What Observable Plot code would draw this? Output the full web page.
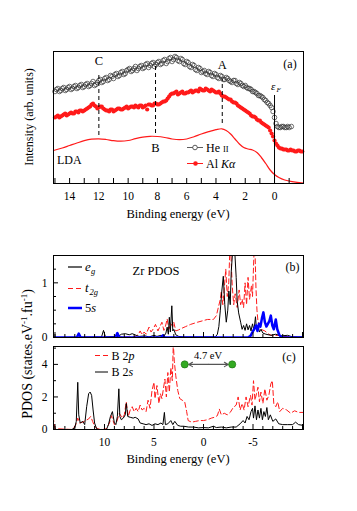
<!DOCTYPE html>
<html><head><meta charset="utf-8">
<script src="https://cdn.jsdelivr.net/npm/d3@7"></script>
<script src="https://cdn.jsdelivr.net/npm/@observablehq/plot@0.6"></script>
<style>
body{margin:0;background:#fff;}
#root{position:relative;width:357px;height:511px;overflow:hidden;font-family:"Liberation Serif","Times New Roman",serif;}
#root > svg{position:absolute;left:0;}
#root svg, #root svg text{font-family:"Liberation Serif","Times New Roman",serif !important;}
</style></head><body><div id="root"></div>
<script>
// ---------- Panel (a): photoemission spectra (binding energy eV, intensity arb.) ----------
const heII = [[15.0,92],[14.8,95],[14.6,93],[14.4,96],[14.2,94],[14.0,97],[13.8,95],[13.6,98],[13.4,96],[13.2,99],[13.0,97],[12.8,100],[12.6,98],[12.4,102],[12.2,99],[12.0,103],[11.8,101],[11.6,105],[11.4,103],[11.2,108],[11.0,105],[10.8,110],[10.6,108],[10.4,112],[10.2,110],[10.0,114],[9.8,112],[9.6,115],[9.4,113],[9.2,117],[9.0,115],[8.8,119],[8.6,116],[8.4,120],[8.2,117],[8.0,121],[7.8,119],[7.6,123],[7.4,120],[7.2,125],[7.0,122],[6.8,127],[6.6,123],[6.4,125],[6.2,120],[6.0,122],[5.8,117],[5.6,119],[5.4,114],[5.2,116],[5.0,111],[4.8,113],[4.6,109],[4.4,111],[4.2,107],[4.0,109],[3.8,105],[3.6,107],[3.4,104],[3.2,105],[3.0,102],[2.8,103],[2.6,100],[2.4,101],[2.2,98],[2.0,98],[1.8,95],[1.6,94],[1.4,92],[1.2,90],[1.0,88],[0.8,86],[0.6,83],[0.4,80],[0.2,76],[0.1,72],[0.0,66],[-0.1,60],[-0.2,57],[-0.4,56],[-0.6,57],[-0.8,56],[-1.0,56],[-1.15,57]];
const heIIb = [[14.9,94],[14.7,92],[14.5,95],[14.3,93],[14.1,96],[13.9,94],[13.7,97],[13.5,95],[13.3,98],[13.1,96],[12.9,99],[12.7,97],[12.5,100],[12.3,98],[12.1,101],[11.9,104],[11.7,102],[11.5,106],[11.3,104],[11.1,107],[10.9,109],[10.7,107],[10.5,111],[10.3,109],[10.1,113],[9.9,115],[9.7,113],[9.5,117],[9.3,115],[9.1,118],[8.9,116],[8.7,120],[8.5,118],[8.3,121],[8.1,119],[7.9,122],[7.7,120],[7.5,124],[7.3,122],[7.1,126],[6.9,124],[6.7,126],[6.5,122],[6.3,124],[6.1,119],[5.9,121],[5.7,116],[5.5,118],[5.3,113],[5.1,115],[4.9,112],[4.7,110],[4.5,112],[4.3,108],[4.1,110],[3.9,106],[3.7,108],[3.5,104],[3.3,106],[3.1,103],[2.9,101],[2.7,103],[2.5,99],[2.3,100],[2.1,97],[1.9,96],[1.7,95],[1.5,92],[1.3,91],[1.1,88],[0.9,87],[0.7,84],[0.5,81],[0.3,78],[-0.3,56],[-0.5,57],[-0.7,56],[-0.9,57]];
const alKa = [[15.0,66],[14.8,68],[14.6,67],[14.4,69],[14.2,68],[14.0,70],[13.8,70],[13.6,72],[13.4,71],[13.2,73],[13.0,73],[12.8,75],[12.6,77],[12.4,80],[12.2,77],[12.0,76],[11.8,77],[11.6,74],[11.4,73],[11.2,74],[11.0,72],[10.8,74],[10.6,75],[10.4,74],[10.2,76],[10.0,75],[9.8,77],[9.6,76],[9.4,77],[9.2,78],[9.0,76],[8.8,78],[8.7,74],[8.6,79],[8.4,78],[8.2,80],[8.0,79],[7.8,80],[7.6,82],[7.4,83],[7.2,87],[7.0,90],[6.8,91],[6.6,89],[6.4,91],[6.2,90],[6.0,91],[5.8,92],[5.6,91],[5.4,93],[5.2,92],[5.0,94],[4.8,93],[4.6,94],[4.4,92],[4.2,93],[4.0,91],[3.8,92],[3.6,88],[3.4,87],[3.2,85],[3.0,84],[2.8,81],[2.6,80],[2.4,77],[2.2,75],[2.0,73],[1.8,71],[1.6,68],[1.4,67],[1.2,64],[1.0,63],[0.8,60],[0.6,58],[0.4,56],[0.3,53],[0.2,50],[0.1,47],[0.0,43],[-0.1,40],[-0.2,38],[-0.3,36],[-0.5,35],[-0.7,34],[-0.9,33],[-1.1,34],[-1.3,33],[-1.5,32],[-1.7,33],[-1.9,32]];
const alKab = [[14.9,67],[14.7,66],[14.5,68],[14.3,70],[14.1,69],[13.9,71],[13.7,70],[13.5,72],[13.3,73],[13.1,72],[12.9,74],[12.7,76],[12.5,79],[12.3,78],[12.1,75],[11.9,77],[11.7,75],[11.5,73],[11.3,72],[11.1,74],[10.9,73],[10.7,75],[10.5,74],[10.3,75],[10.1,77],[9.9,76],[9.7,77],[9.5,78],[9.3,76],[9.1,78],[8.9,77],[8.5,79],[8.3,78],[8.1,80],[7.9,79],[7.7,81],[7.5,82],[7.3,85],[7.1,89],[6.9,90],[6.7,92],[6.5,90],[6.3,92],[6.1,90],[5.9,91],[5.7,93],[5.5,92],[5.3,93],[5.1,95],[4.9,93],[4.7,95],[4.5,93],[4.3,94],[4.1,92],[3.9,91],[3.7,90],[3.5,87],[3.3,86],[3.1,84],[2.9,82],[2.7,81],[2.5,78],[2.3,76],[2.1,74],[1.9,72],[1.7,70],[1.5,67],[1.3,66],[1.1,63],[0.9,61],[0.7,59],[0.5,57],[-0.4,35],[-0.6,34],[-0.8,34],[-1.0,33],[-1.2,33],[-1.4,32],[-1.6,33],[-1.8,32]];
const lda = [[15.1,33],[14.5,35.5],[14.0,38],[13.5,40.5],[13.0,42.8],[12.5,44.3],[12.0,44.7],[11.5,44],[11.0,42.8],[10.5,42.3],[10.0,43],[9.5,44.8],[9.0,46.3],[8.5,47.2],[8.0,47],[7.5,46],[7.0,44.5],[6.5,43.8],[6.0,44.5],[5.5,46.8],[5.0,49.5],[4.5,51.8],[4.0,53.8],[3.6,54.7],[3.3,53],[3.0,49.5],[2.7,44.5],[2.4,39.5],[2.1,36],[1.8,34.5],[1.5,33.5],[1.2,31],[0.9,26],[0.6,20],[0.3,13.5],[0.0,9],[-0.3,6],[-0.7,3.5],[-1.2,1.8],[-1.98,0.3]];
const features = [
  {label:"C", x:12.0, y1:48, y2:110, ty:123},
  {label:"B", x:8.13, y1:50, y2:118, ty:36},
  {label:"A", x:3.57, y1:60, y2:104, ty:119}
];
const fermi = [{x:0, top:88}];
const ticksA = [14,12,10,8,6,4,2,0];
const minorA = [15,14,13,12,11,10,9,8,7,6,5,4,3,2,1,0,-1];

// ---------- Panel (b): Zr PDOS ----------
const eg = [[15.2,0],[10.3,0.01],[10.1,0.13],[9.9,0.01],[8.6,0.02],[8.3,0.06],[7.9,0.07],[7.5,0.05],[7.2,0.07],[6.8,0.04],[6.5,0.02],[5.9,0.03],[5.5,0.01],[5.0,0.04],[4.7,0.02],[4.3,0.04],[4.0,0.02],[3.8,0.08],[3.67,0.19],[3.55,0.06],[3.45,0.37],[3.35,0.1],[3.2,0.58],[3.1,0.12],[3.0,0.15],[2.8,0.05],[2.5,0.02],[2.0,0.01],[-1.2,0.01],[-1.4,0.06],[-1.55,0.2],[-1.7,0.5],[-1.85,0.85],[-2.0,1.12],[-2.15,0.6],[-2.3,0.28],[-2.45,0.5],[-2.56,0.85],[-2.7,0.6],[-2.8,1.2],[-2.95,1.6],[-3.05,1.5],[-3.15,1.6],[-3.3,1.1],[-3.4,0.67],[-3.55,0.45],[-3.75,0.28],[-3.9,0.15],[-4.05,0.22],[-4.2,0.13],[-4.35,0.25],[-4.5,0.14],[-4.65,0.22],[-4.8,0.12],[-4.95,0.25],[-5.1,0.13],[-5.25,0.38],[-5.35,0.15],[-5.5,0.22],[-5.65,0.1],[-5.8,0.15],[-6.0,0.08],[-6.3,0.06],[-6.8,0.04],[-7.3,0.06],[-7.8,0.03],[-8.5,0.04],[-9.0,0.01],[-10.1,0.01]];
const t2g = [[15.2,0],[7.0,0.01],[6.6,0.05],[6.4,0.12],[6.2,0.05],[6.0,0.1],[5.8,0.06],[5.5,0.19],[5.3,0.1],[5.1,0.15],[4.85,0.24],[4.6,0.12],[4.4,0.2],[4.2,0.28],[4.0,0.13],[3.85,0.2],[3.67,0.34],[3.5,0.15],[3.3,0.25],[3.1,0.2],[3.0,0.28],[2.8,0.12],[2.5,0.14],[2.3,0.16],[1.8,0.2],[1.3,0.24],[0.6,0.28],[0,0.31],[-0.4,0.33],[-1.0,0.33],[-1.3,0.4],[-1.5,0.55],[-1.7,0.7],[-1.8,0.85],[-1.95,0.6],[-2.1,0.9],[-2.25,1.25],[-2.4,0.75],[-2.55,1.0],[-2.65,1.55],[-2.75,1.6],[-2.9,0.95],[-3.05,0.6],[-3.2,0.8],[-3.4,0.55],[-3.6,0.87],[-3.75,0.6],[-3.9,0.7],[-4.05,0.55],[-4.2,1.0],[-4.35,0.6],[-4.5,1.1],[-4.65,0.7],[-4.85,0.95],[-4.95,0.75],[-5.1,1.55],[-5.2,1.6],[-5.3,0.9],[-5.4,0.5],[-5.5,0.3],[-5.8,0.15],[-6.2,0.12],[-6.6,0.06],[-7.0,0.03],[-7.5,0.04],[-8.0,0.02],[-9.0,0.01],[-10.1,0]];
const s5 = [[15.2,0],[12.8,0],[12.6,0.07],[12.4,0],[8.9,0],[8.7,0.08],[8.5,0],[4.3,0],[4.1,0.04],[3.9,0],[-4.5,0],[-4.75,0.03],[-4.95,0.1],[-5.1,0.15],[-5.3,0.22],[-5.45,0.12],[-5.6,0.25],[-5.75,0.2],[-5.9,0.35],[-6.05,0.46],[-6.2,0.28],[-6.35,0.2],[-6.5,0.25],[-6.65,0.3],[-6.8,0.4],[-6.95,0.22],[-7.1,0.15],[-7.3,0.33],[-7.45,0.15],[-7.65,0.05],[-7.9,0],[-10.1,0]];

// ---------- Panel (c): B PDOS ----------
const b2p = [[15.2,0.8],[15.0,0.05],[13.2,0],[12.9,0.3],[12.7,0.7],[12.5,0.4],[12.2,0.45],[11.9,0.55],[11.6,0.65],[11.4,0.8],[11.2,0.5],[11.0,0.2],[10.7,0.05],[10.2,0],[9.8,0.05],[9.5,0.4],[9.3,0.85],[9.0,0.3],[8.8,0.4],[8.5,1.0],[8.2,0.7],[8.0,0.9],[7.8,1.7],[7.6,0.8],[7.4,1.2],[7.2,1.4],[7.0,1.1],[6.8,1.3],[6.6,1.1],[6.4,1.5],[6.2,1.2],[6.0,1.3],[5.8,1.1],[5.6,1.8],[5.4,1.3],[5.2,2.4],[5.0,2.9],[4.9,1.9],[4.7,2.7],[4.5,1.6],[4.35,2.2],[4.2,1.9],[3.9,3.1],[3.75,2.0],[3.6,3.5],[3.45,2.3],[3.3,3.8],[3.15,3.0],[3.05,5.3],[2.95,4.2],[2.8,3.3],[2.6,2.4],[2.4,1.9],[2.15,1.8],[1.9,1.7],[1.7,1.1],[1.55,0.55],[1.2,0.45],[0.8,0.5],[0.4,0.55],[0,0.55],[-0.4,0.6],[-0.8,0.7],[-1.1,0.75],[-1.4,0.85],[-1.6,1.25],[-1.8,0.9],[-2.1,1.0],[-2.4,0.9],[-2.7,1.05],[-3.0,1.35],[-3.3,1.5],[-3.5,2.0],[-3.7,1.2],[-3.9,1.6],[-4.1,1.2],[-4.3,2.0],[-4.5,1.4],[-4.75,2.1],[-4.9,1.5],[-5.05,3.0],[-5.2,1.8],[-5.35,2.2],[-5.5,2.6],[-5.65,1.7],[-5.8,2.3],[-6.0,1.6],[-6.2,2.5],[-6.4,1.8],[-6.6,2.1],[-6.8,2.8],[-6.95,3.0],[-7.1,1.6],[-7.3,1.4],[-7.5,1.7],[-7.7,1.1],[-8.0,1.3],[-8.4,1.2],[-8.8,1.0],[-9.2,1.15],[-9.6,1.05],[-10.1,1.05]];
const b2s = [[15.2,0],[13.3,0],[13.0,0.1],[12.85,0.5],[12.7,2.9],[12.6,0.9],[12.45,0.4],[12.2,0.5],[12.0,0.3],[11.8,1.4],[11.6,2.2],[11.45,2.3],[11.3,2.1],[11.15,1.2],[11.0,0.4],[10.8,0.05],[10.6,0],[9.8,0],[9.6,0.3],[9.4,0.8],[9.2,1.1],[9.0,0.4],[8.85,0.3],[8.7,0.8],[8.55,2.5],[8.45,0.8],[8.3,0.6],[8.1,0.7],[7.9,0.9],[7.8,1.6],[7.65,0.8],[7.4,0.75],[7.1,0.7],[6.9,0.75],[6.6,0.65],[6.4,0.4],[6.1,0.35],[5.8,0.3],[5.5,0.35],[5.2,0.25],[4.9,0.35],[4.6,0.3],[4.3,0.4],[4.1,0.3],[3.95,1.05],[3.85,0.3],[3.6,0.35],[3.3,0.55],[3.1,0.3],[2.9,0.5],[2.6,0.25],[2.3,0.2],[2.0,0.2],[1.5,0.15],[1.0,0.15],[0.5,0.1],[0,0.12],[-0.5,0.1],[-1.0,0.2],[-1.3,0.12],[-1.8,0.15],[-2.3,0.1],[-2.8,0.15],[-3.3,0.15],[-3.7,0.35],[-4.0,0.55],[-4.2,0.4],[-4.4,0.8],[-4.6,0.6],[-4.8,1.1],[-4.95,1.3],[-5.05,0.7],[-5.2,1.45],[-5.35,0.6],[-5.5,1.2],[-5.65,0.7],[-5.8,1.3],[-5.95,0.6],[-6.1,1.1],[-6.25,0.8],[-6.4,1.35],[-6.55,0.6],[-6.75,0.9],[-7.0,0.5],[-7.3,0.65],[-7.6,0.35],[-8.0,0.3],[-8.5,0.3],[-9.0,0.3],[-9.3,0.45],[-9.6,0.3],[-10.1,0.25]];
const bond = [{xa:1.9, xb:-2.9, y:4.0}];
const ticksC = [10,5,0,-5];
const minorBC = [15,14,13,12,11,9,8,7,6,4,3,2,1,-1,-2,-3,-4,-6,-7,-8,-9,-10];
const majorBC = [15,10,5,0,-5,-10];

// ---------- rendering ----------
const FONT = "'Liberation Serif', serif";
const W = 357, ML = 53, MR = 54, IW = W - ML - MR;
const px = d => d[0], py = d => d[1];
const baseStyle = {fontFamily: FONT, fontSize: "11.5px", color: "black", background: "transparent", overflow: "visible"};
const root = document.getElementById("root");
function place(svg, top){ svg.style.top = top + "px"; root.appendChild(svg); return svg; }

// Panel a
const hA = 230, mtA = 51, mbA = 47, ihA = hA - mtA - mbA;
const plotA = Plot.plot({
  width: W, height: hA, marginLeft: ML, marginRight: MR, marginTop: mtA, marginBottom: mbA,
  style: baseStyle,
  x: {domain: [15.1, -1.98]},
  y: {domain: [0, 132], axis: null},
  marks: [
    Plot.line(lda, {x: px, y: py, stroke: "#ff1a1a", strokeWidth: 1.2, curve: "catmull-rom"}),
    Plot.dot(alKa, {x: px, y: py, r: 2.1, fill: "#ff1a1a", stroke: "none"}),
    Plot.dot(alKab, {x: px, y: py, r: 2.1, fill: "#ff1a1a", stroke: "none"}),
    Plot.dot(heII, {x: px, y: py, r: 2.3, stroke: "#333", strokeWidth: 0.7, fill: "none"}),
    Plot.dot(heIIb, {x: px, y: py, r: 2.3, stroke: "#333", strokeWidth: 0.7, fill: "none"}),
    Plot.ruleX(features, {x: "x", y1: "y1", y2: "y2", stroke: "black", strokeDasharray: "4,3"}),
    Plot.text(features, {x: "x", y: "ty", text: "label", fontSize: 12.5, fill: "black"}),
    Plot.ruleX(fermi, {x: "x", y1: 0, y2: "top", stroke: "black", strokeWidth: 1}),
    Plot.tickX(minorA, {x: d => d, insetTop: ihA - 5, stroke: "black"}),
    Plot.axisX({ticks: ticksA, tickSize: 0, tickPadding: 8, tickFormat: d => String(d), label: null}),
    Plot.frame({stroke: "black"})
  ]
});
place(plotA, 0);

// Panel b
const hB = 100, mtB = 15, mbB = 3, ihB = hB - mtB - mbB;
const plotB = Plot.plot({
  width: W, height: hB, marginLeft: ML, marginRight: MR, marginTop: mtB, marginBottom: mbB,
  style: baseStyle,
  x: {domain: [15.15, -10.1], axis: null},
  y: {domain: [0, 1.5]},
  marks: [
    Plot.line(t2g, {x: px, y: py, stroke: "#ff1a1a", strokeWidth: 1, strokeDasharray: "5,3", clip: true}),
    Plot.line(eg, {x: px, y: py, stroke: "black", strokeWidth: 1, clip: true}),
    Plot.line(s5, {x: px, y: py, stroke: "#0000ff", strokeWidth: 2.5, clip: true}),
    Plot.tickX(minorBC, {x: d => d, insetTop: ihB - 3, stroke: "black"}),
    Plot.tickX(majorBC, {x: d => d, insetTop: ihB - 5, stroke: "black"}),
    Plot.tickY([0.25, 0.5, 0.75, 1.25], {y: d => d, insetRight: IW - 3, stroke: "black"}),
    Plot.tickY([1], {y: d => d, insetRight: IW - 5, stroke: "black"}),
    Plot.axisY({ticks: [0, 1], tickSize: 0, tickPadding: 6, tickFormat: d => String(d), label: null}),
    Plot.frame({stroke: "black"})
  ]
});
place(plotB, 240);

// Panel c
const hC = 140, mtC = 6, mbC = 51, ihC = hC - mtC - mbC;
const plotC = Plot.plot({
  width: W, height: hC, marginLeft: ML, marginRight: MR, marginTop: mtC, marginBottom: mbC,
  style: baseStyle,
  x: {domain: [15.15, -10.1]},
  y: {domain: [0, 5.1]},
  marks: [
    Plot.line(b2p, {x: px, y: py, stroke: "#ff1a1a", strokeWidth: 1, strokeDasharray: "5,3", clip: true}),
    Plot.line(b2s, {x: px, y: py, stroke: "black", strokeWidth: 1, clip: true}),
    Plot.arrow(bond, {x1: d => (d.xa + d.xb) / 2, x2: "xa", y1: "y", y2: "y", stroke: "#555", strokeWidth: 1.1, insetEnd: 4, headLength: 6}),
    Plot.arrow(bond, {x1: d => (d.xa + d.xb) / 2, x2: "xb", y1: "y", y2: "y", stroke: "#555", strokeWidth: 1.1, insetEnd: 4, headLength: 6}),
    Plot.dot(bond, {x: "xa", y: "y", r: 3.6, fill: "#33aa22", stroke: "#1f6f14", strokeWidth: 0.6}),
    Plot.dot(bond, {x: "xb", y: "y", r: 3.6, fill: "#33aa22", stroke: "#1f6f14", strokeWidth: 0.6}),
    Plot.tickX(minorBC, {x: d => d, insetTop: ihC - 3, stroke: "black"}),
    Plot.tickX(majorBC, {x: d => d, insetTop: ihC - 5, stroke: "black"}),
    Plot.tickY([1, 3, 5], {y: d => d, insetRight: IW - 3, stroke: "black"}),
    Plot.tickY([2, 4], {y: d => d, insetRight: IW - 5, stroke: "black"}),
    Plot.axisX({ticks: ticksC, tickSize: 0, tickPadding: 8, tickFormat: d => String(d), label: null}),
    Plot.axisY({ticks: [0, 2, 4], tickSize: 0, tickPadding: 6, tickFormat: d => String(d), label: null}),
    Plot.frame({stroke: "black"})
  ]
});
place(plotC, 340);

// Overlay: axis titles, panel labels and legends
const red = "#ff1a1a";
const ov = `
<svg xmlns="http://www.w3.org/2000/svg" width="357" height="511" style="top:0;pointer-events:none;fill:black">
  <text transform="translate(29,117) rotate(-90)" text-anchor="middle" dy="0.35em" font-size="12">Intensity (arb. units)</text>
  <text x="178" y="214" text-anchor="middle" dy="0.35em" font-size="12.5">Binding energy (eV)</text>
  <text x="178" y="459" text-anchor="middle" dy="0.35em" font-size="12.5">Binding energy (eV)</text>
  <text transform="translate(27,354) rotate(-90)" text-anchor="middle" dy="0.35em" font-size="14">PDOS (states.eV<tspan dy="-5" font-size="9">-1</tspan><tspan dy="5">.fu</tspan><tspan dy="-5" font-size="9">-1</tspan><tspan dy="5">)</tspan></text>
  <text x="290" y="64" text-anchor="middle" dy="0.35em" font-size="12">(a)</text>
  <text x="57" y="159.5" dy="0.35em" font-size="12">LDA</text>
  <text x="271" y="86" dy="0.35em" font-size="11" font-style="italic">ε</text>
  <text x="276.5" y="90" dy="0.35em" font-size="7" font-style="italic">F</text>
  <line x1="187" x2="203" y1="147.5" y2="147.5" stroke="#333" stroke-width="0.8"/>
  <circle cx="195" cy="147.5" r="2.3" fill="white" stroke="#333" stroke-width="0.8"/>
  <text x="206" y="147.5" dy="0.35em" font-size="12">He <tspan font-size="8.5">II</tspan></text>
  <line x1="187" x2="203" y1="163.5" y2="163.5" stroke="${red}" stroke-width="1"/>
  <circle cx="195.5" cy="163.5" r="2.3" fill="${red}"/>
  <text x="206" y="163.5" dy="0.35em" font-size="12">Al <tspan font-style="italic">Kα</tspan></text>
  <text x="156" y="271" text-anchor="middle" dy="0.35em" font-size="12.5">Zr PDOS</text>
  <text x="292.5" y="267" text-anchor="middle" dy="0.35em" font-size="12">(b)</text>
  <line x1="68" x2="82" y1="267" y2="267" stroke="black" stroke-width="1.2"/>
  <text x="85" y="266" dy="0.35em" font-size="13" font-style="italic">e</text>
  <text x="91" y="271" dy="0.35em" font-size="8.5" font-style="italic">g</text>
  <line x1="68" x2="82" y1="288.5" y2="288.5" stroke="${red}" stroke-width="1" stroke-dasharray="5,3"/>
  <text x="85" y="287" dy="0.35em" font-size="13" font-style="italic">t</text>
  <text x="89.5" y="292" dy="0.35em" font-size="8.5" font-style="italic">2g</text>
  <line x1="68" x2="82" y1="308" y2="308" stroke="#0000ff" stroke-width="2.5"/>
  <text x="85" y="308" dy="0.35em" font-size="12.5">5<tspan font-style="italic">s</tspan></text>
  <text x="289" y="357" text-anchor="middle" dy="0.35em" font-size="12">(c)</text>
  <text x="208" y="355" text-anchor="middle" dy="0.35em" font-size="10.5">4.7 eV</text>
  <line x1="95" x2="108" y1="355.5" y2="355.5" stroke="${red}" stroke-width="1" stroke-dasharray="5,3"/>
  <text x="111.5" y="355.5" dy="0.35em" font-size="12">B 2<tspan font-style="italic">p</tspan></text>
  <line x1="95" x2="108" y1="372" y2="372" stroke="black" stroke-width="1"/>
  <text x="111.5" y="372" dy="0.35em" font-size="12">B 2<tspan font-style="italic">s</tspan></text>
</svg>`;
root.insertAdjacentHTML("beforeend", ov);
</script>
</body></html>
